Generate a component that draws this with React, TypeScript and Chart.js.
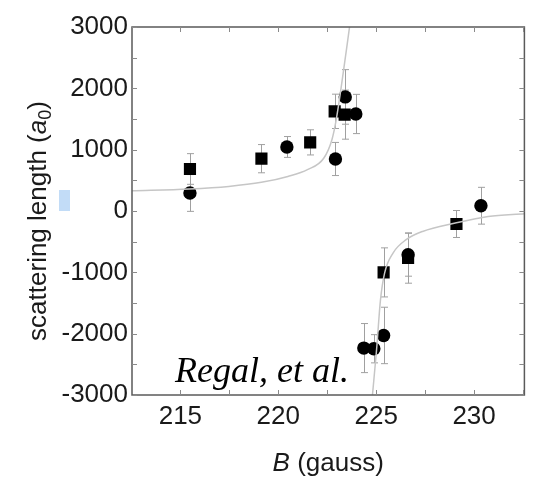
import React, { useEffect, useRef } from 'react';
import { Chart, registerables } from 'chart.js';

Chart.register(...registerables);

// ---- data ----
const xTickValues = [215, 220, 225, 230];
const yTickValues = [-3000, -2000, -1000, 0, 1000, 2000, 3000];

const squareB = [215.49, 219.14, 221.63, 222.88, 223.39, 225.38, 226.63, 229.1];
const squareA = [685, 853, 1119, 1625, 1571, -1001, -767, -212];
const squareErr = [250, 230, 205, 280, 400, 400, 410, 220];

const circleB = [215.49, 220.44, 222.92, 223.42, 223.96, 224.37, 224.88, 225.38, 226.63, 230.35];
const circleA = [294, 1044, 848, 1860, 1582, -2235, -2246, -2029, -713, 86];
const circleErr = [300, 170, 270, 445, 320, 400, 230, 460, 350, 300];

const fitLeftB = [212.53, 215.45, 217.47, 219.14, 220.49, 221.49, 222.33, 222.74, 222.96, 223.34, 223.64];
const fitLeftA = [329, 359, 401, 467, 564, 674, 864, 1163, 1489, 2304, 3000];
const fitRightB = [224.81, 225.02, 225.22, 225.43, 225.86, 226.53, 227.37, 229.04, 230.72, 232.57];
const fitRightA = [-3000, -2263, -1447, -1012, -685, -468, -333, -196, -88, -44];

const X_MIN = 212.53;
const X_MAX = 232.57;
const Y_MIN = -3000;
const Y_MAX = 3000;
const X_MINOR_STEP = 2.5;
const Y_MINOR_STEP = 500;

const SANS = "'Liberation Sans', Arial, sans-serif";
const SERIF = "'Liberation Serif', 'Times New Roman', serif";
const TEXT = '#1a1a1a';

const toPts = (xs: number[], ys: number[]) => xs.map((x, i) => ({ x, y: ys[i] }));

const decorPlugin = {
  id: 'decor',
  beforeDatasetsDraw(chart: any) {
    const ctx = chart.ctx;
    const xs = chart.scales.x;
    const ys = chart.scales.y;
    ctx.save();
    ctx.strokeStyle = '#a0a0a0';
    ctx.lineWidth = 1;
    const drawErr = (bs: number[], as: number[], es: number[]) => {
      bs.forEach((b, i) => {
        const px = Math.round(xs.getPixelForValue(b)) + 0.5;
        const top = ys.getPixelForValue(as[i] + es[i]);
        const bot = ys.getPixelForValue(as[i] - es[i]);
        ctx.beginPath();
        ctx.moveTo(px, top);
        ctx.lineTo(px, bot);
        ctx.moveTo(px - 3.5, top);
        ctx.lineTo(px + 3.5, top);
        ctx.moveTo(px - 3.5, bot);
        ctx.lineTo(px + 3.5, bot);
        ctx.stroke();
      });
    };
    drawErr(squareB, squareA, squareErr);
    drawErr(circleB, circleA, circleErr);
    ctx.restore();
  },
  afterDraw(chart: any) {
    const ctx = chart.ctx;
    const { left, right, top, bottom } = chart.chartArea;
    const xs = chart.scales.x;
    const ys = chart.scales.y;
    ctx.save();

    // frame
    ctx.strokeStyle = '#5a5a5a';
    ctx.lineWidth = 1.5;
    ctx.strokeRect(left, top, right - left, bottom - top);

    // inward ticks on all four sides
    ctx.strokeStyle = '#8a8a8a';
    ctx.lineWidth = 1;
    ctx.beginPath();
    for (let v = Math.ceil(X_MIN / X_MINOR_STEP) * X_MINOR_STEP; v <= X_MAX; v += X_MINOR_STEP) {
      const px = Math.round(xs.getPixelForValue(v)) + 0.5;
      ctx.moveTo(px, bottom);
      ctx.lineTo(px, bottom - 5);
      ctx.moveTo(px, top);
      ctx.lineTo(px, top + 5);
    }
    for (let v = Y_MIN; v <= Y_MAX; v += Y_MINOR_STEP) {
      const py = Math.round(ys.getPixelForValue(v)) + 0.5;
      ctx.moveTo(left, py);
      ctx.lineTo(left + 5, py);
      ctx.moveTo(right, py);
      ctx.lineTo(right - 5, py);
    }
    ctx.stroke();

    // x axis title: italic B + (gauss)
    ctx.fillStyle = TEXT;
    ctx.textBaseline = 'alphabetic';
    const xTitleFontI = `italic 26px ${SANS}`;
    const xTitleFont = `26px ${SANS}`;
    ctx.font = xTitleFontI;
    const wB = ctx.measureText('B').width;
    ctx.font = xTitleFont;
    const wRest = ctx.measureText(' (gauss)').width;
    const cx = (left + right) / 2;
    const sx = cx - (wB + wRest) / 2;
    ctx.textAlign = 'left';
    ctx.font = xTitleFontI;
    ctx.fillText('B', sx, 471);
    ctx.font = xTitleFont;
    ctx.fillText(' (gauss)', sx + wB, 471);

    // y axis title: scattering length (a0)
    ctx.save();
    ctx.translate(46, 221);
    ctx.rotate(-Math.PI / 2);
    const fN = `26px ${SANS}`;
    const fI = `italic 26px ${SANS}`;
    const fS = `18px ${SANS}`;
    const p1 = 'scattering length (';
    ctx.font = fN;
    const w1 = ctx.measureText(p1).width;
    const w4 = ctx.measureText(')').width;
    ctx.font = fI;
    const w2 = ctx.measureText('a').width;
    ctx.font = fS;
    const w3 = ctx.measureText('0').width;
    const total = w1 + w2 + w3 + w4;
    let tx = -total / 2;
    ctx.font = fN;
    ctx.fillText(p1, tx, 0);
    tx += w1;
    ctx.font = fI;
    ctx.fillText('a', tx, 0);
    tx += w2;
    ctx.font = fS;
    ctx.fillText('0', tx, 5);
    tx += w3;
    ctx.font = fN;
    ctx.fillText(')', tx, 0);
    ctx.restore();

    // annotation
    ctx.fillStyle = '#000';
    ctx.font = `italic 36px ${SERIF}`;
    ctx.textAlign = 'left';
    ctx.fillText('Regal, et al.', 175, 382);

    // small blue mark
    ctx.fillStyle = '#c2dcf7';
    ctx.fillRect(59, 190, 11, 21);

    ctx.restore();
  },
};

export default function App() {
  const ref = useRef<HTMLCanvasElement>(null);

  useEffect(() => {
    if (!ref.current) return;
    const chart = new Chart(ref.current, {
      type: 'scatter',
      data: {
        datasets: [
          {
            data: toPts(fitLeftB, fitLeftA),
            showLine: true,
            pointRadius: 0,
            borderColor: '#c6c6c6',
            borderWidth: 1.5,
            cubicInterpolationMode: 'monotone',
          },
          {
            data: toPts(fitRightB, fitRightA),
            showLine: true,
            pointRadius: 0,
            borderColor: '#c6c6c6',
            borderWidth: 1.5,
            cubicInterpolationMode: 'monotone',
          },
          {
            data: toPts(squareB, squareA),
            pointStyle: 'rect',
            pointRadius: 8.6,
            backgroundColor: '#000',
            borderColor: '#000',
            borderWidth: 0,
          },
          {
            data: toPts(circleB, circleA),
            pointStyle: 'circle',
            pointRadius: 6.7,
            backgroundColor: '#000',
            borderColor: '#000',
            borderWidth: 0,
          },
        ],
      } as any,
      options: {
        responsive: false,
        animation: false,
        layout: { padding: { top: 27, right: 3, left: 0, bottom: 0 } },
        plugins: { legend: { display: false }, tooltip: { enabled: false } },
        scales: {
          x: {
            type: 'linear',
            min: X_MIN,
            max: X_MAX,
            afterBuildTicks: (s: any) => {
              s.ticks = xTickValues.map((v) => ({ value: v }));
            },
            afterFit: (s: any) => {
              s.height = 83;
            },
            grid: { display: false, drawTicks: false },
            border: { display: false },
            ticks: {
              autoSkip: false,
              maxRotation: 0,
              padding: 6,
              color: TEXT,
              font: { family: SANS, size: 26 },
              callback: (v: any) => String(v),
            },
          },
          y: {
            type: 'linear',
            min: Y_MIN,
            max: Y_MAX,
            afterBuildTicks: (s: any) => {
              s.ticks = yTickValues.map((v) => ({ value: v }));
            },
            afterFit: (s: any) => {
              s.width = 132;
            },
            grid: { display: false, drawTicks: false },
            border: { display: false },
            ticks: {
              autoSkip: false,
              padding: 4,
              color: TEXT,
              font: { family: SANS, size: 26 },
              callback: (v: any) => String(v),
            },
          },
        },
      } as any,
      plugins: [decorPlugin],
    });
    return () => chart.destroy();
  }, []);

  return (
    <div style={{ position: 'absolute', left: 0, top: 0, width: 533, height: 478, background: '#fff' }}>
      <canvas ref={ref} width={533} height={478} style={{ width: 533, height: 478, display: 'block' }} />
    </div>
  );
}
